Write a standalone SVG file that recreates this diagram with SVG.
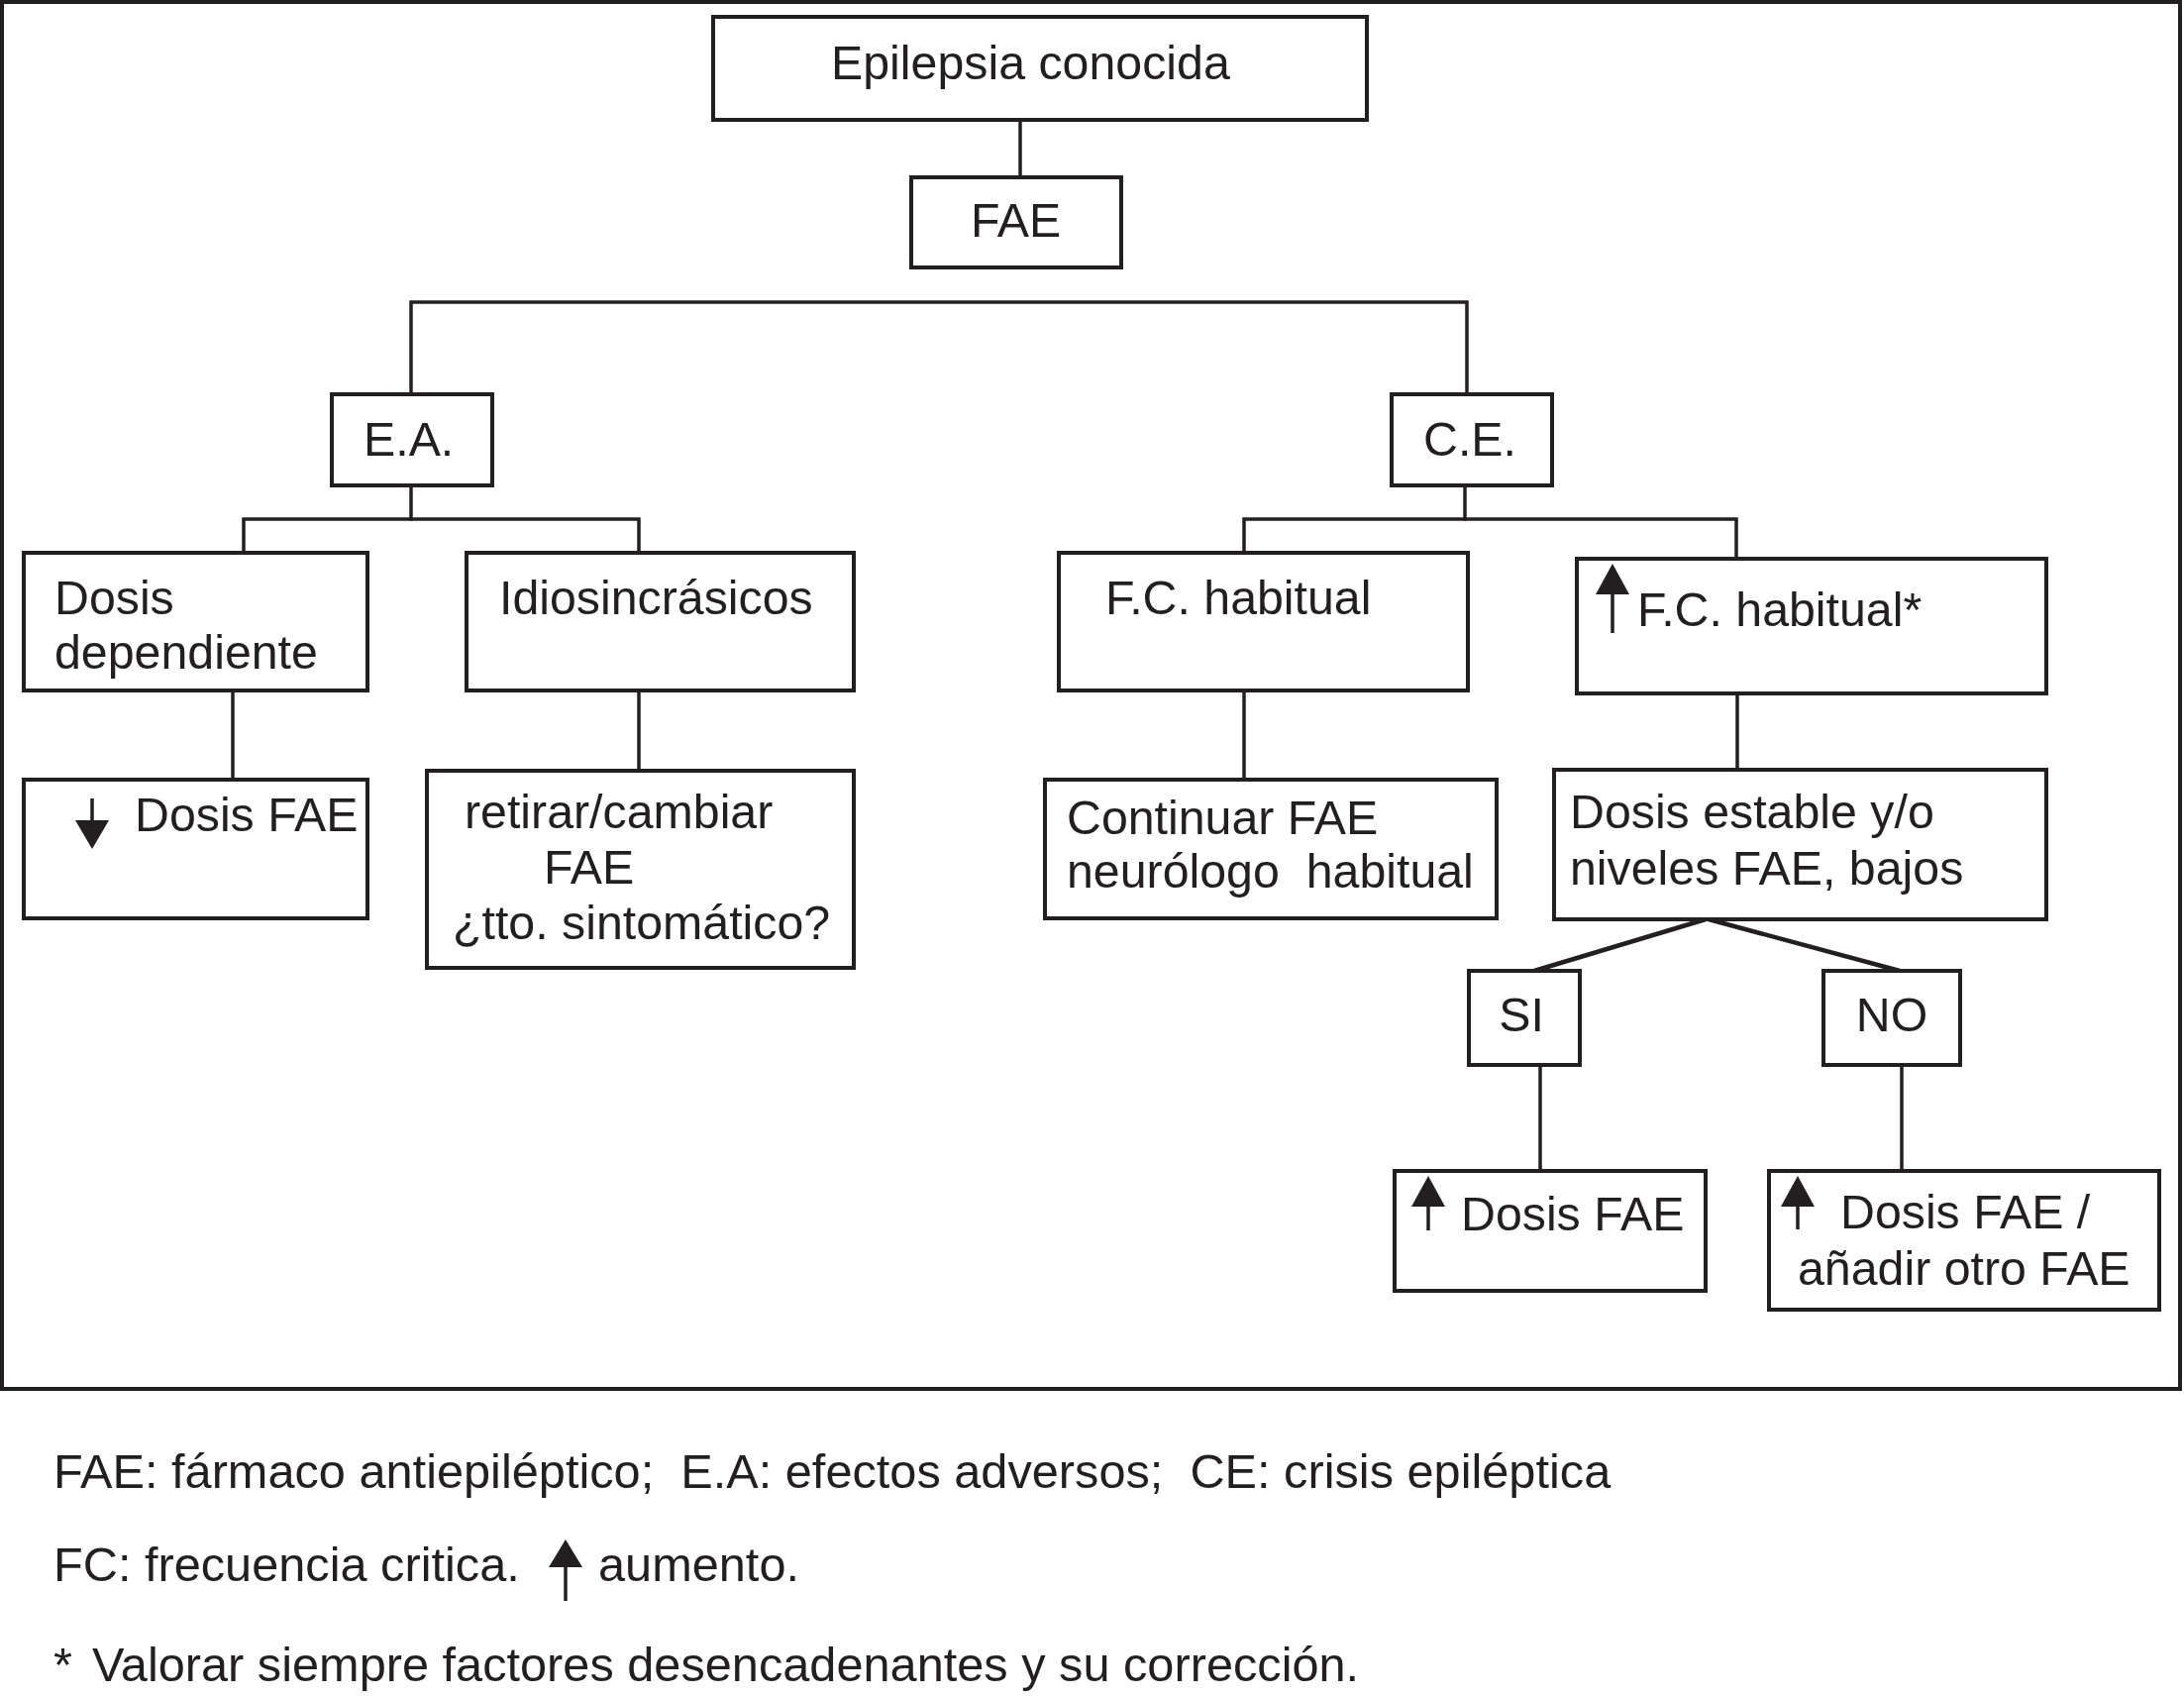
<svg xmlns="http://www.w3.org/2000/svg" width="2205" height="1712" viewBox="0 0 2205 1712">
<style>
  .box { fill: #ffffff; stroke: #231f20; stroke-width: 4; }
  .ln { fill: none; stroke: #231f20; stroke-width: 3.5; stroke-linecap: square; }
  .diag { fill: none; stroke: #231f20; stroke-width: 4.5; }
  .t { font-family: "Liberation Sans", Arial, Helvetica, sans-serif; font-size: 48.3px; fill: #231f20; }
  .f { font-size: 48.7px; }
  .c { text-anchor: middle; }
  .arr { fill: #231f20; stroke: none; }
  .shaft { stroke: #231f20; stroke-width: 3.5; fill: none; }
</style>
<rect x="0" y="0" width="2205" height="1712" fill="#ffffff"/>
<rect x="2" y="2" width="2199" height="1400" fill="none" stroke="#231f20" stroke-width="4"/>

<g id="connectors">
  <line class="ln" x1="1030" y1="121" x2="1030" y2="179"/>
  <polyline class="ln" points="415,398 415,305 1481,305 1481,398"/>
  <line class="ln" x1="415" y1="490" x2="415" y2="524"/>
  <polyline class="ln" points="246,558 246,524 645,524 645,558"/>
  <line class="ln" x1="235" y1="697" x2="235" y2="787"/>
  <line class="ln" x1="645" y1="697" x2="645" y2="778"/>
  <line class="ln" x1="1479" y1="490" x2="1479" y2="524"/>
  <polyline class="ln" points="1256,558 1256,524 1753,524 1753,564"/>
  <line class="ln" x1="1256" y1="697" x2="1256" y2="787"/>
  <line class="ln" x1="1754" y1="700" x2="1754" y2="777"/>
  <line class="diag" x1="1722" y1="928" x2="1549" y2="980"/>
  <line class="diag" x1="1725" y1="928" x2="1918" y2="980"/>
  <line class="ln" x1="1555" y1="1075" x2="1555" y2="1182"/>
  <line class="ln" x1="1920" y1="1075" x2="1920" y2="1182"/>
</g>

<g id="n-epilepsia">
  <rect class="box" x="720" y="17" width="660" height="104"/>
  <text class="t" x="839" y="80">Epilepsia conocida</text>
</g>
<g id="n-fae">
  <rect class="box" x="920" y="179" width="212" height="91"/>
  <text class="t" x="980" y="239">FAE</text>
</g>
<g id="n-ea">
  <rect class="box" x="335" y="398" width="162" height="92"/>
  <text class="t" x="367" y="460">E.A.</text>
</g>
<g id="n-ce">
  <rect class="box" x="1405" y="398" width="162" height="92"/>
  <text class="t" x="1437" y="460">C.E.</text>
</g>
<g id="n-dosisdep">
  <rect class="box" x="24" y="558" width="347" height="139"/>
  <text class="t" x="55" y="620">Dosis</text>
  <text class="t" x="55" y="675">dependiente</text>
</g>
<g id="n-idio">
  <rect class="box" x="471" y="558" width="391" height="139"/>
  <text class="t" x="504" y="620">Idiosincrásicos</text>
</g>
<g id="n-bajar">
  <rect class="box" x="24" y="787" width="347" height="140"/>
  <line class="shaft" x1="93" y1="806" x2="93" y2="830"/>
  <polygon class="arr" points="76,828 110,828 93,857"/>
  <text class="t" x="136" y="839">Dosis FAE</text>
</g>
<g id="n-retirar">
  <rect class="box" x="431" y="778" width="431" height="199"/>
  <text class="t" x="469" y="836">retirar/cambiar</text>
  <text class="t" x="549" y="892">FAE</text>
  <text class="t" x="457" y="948">¿tto. sintomático?</text>
</g>
<g id="n-fchab">
  <rect class="box" x="1069" y="558" width="413" height="139"/>
  <text class="t" x="1116" y="620">F.C. habitual</text>
</g>
<g id="n-fcup">
  <rect class="box" x="1592" y="564" width="474" height="136"/>
  <line class="shaft" x1="1628" y1="639" x2="1628" y2="598"/>
  <polygon class="arr" points="1611,600 1645,600 1628,569"/>
  <text class="t" x="1653" y="632">F.C. habitual*</text>
</g>
<g id="n-continuar">
  <rect class="box" x="1055" y="787" width="456" height="140"/>
  <text class="t" x="1077" y="842">Continuar FAE</text>
  <text class="t" x="1077" y="896" xml:space="preserve" style="white-space:pre">neurólogo  habitual</text>
</g>
<g id="n-estable">
  <rect class="box" x="1569" y="777" width="497" height="151"/>
  <text class="t" x="1585" y="836">Dosis estable y/o</text>
  <text class="t" x="1585" y="893">niveles FAE, bajos</text>
</g>
<g id="n-si">
  <rect class="box" x="1483" y="980" width="112" height="95"/>
  <text class="t c" x="1536" y="1041">SI</text>
</g>
<g id="n-no">
  <rect class="box" x="1841" y="980" width="138" height="95"/>
  <text class="t c" x="1910" y="1041">NO</text>
</g>
<g id="n-subir">
  <rect class="box" x="1408" y="1182" width="314" height="121"/>
  <line class="shaft" x1="1442" y1="1242" x2="1442" y2="1216"/>
  <polygon class="arr" points="1425,1218 1459,1218 1442,1187"/>
  <text class="t" x="1475" y="1242">Dosis FAE</text>
</g>
<g id="n-subir-anadir">
  <rect class="box" x="1786" y="1182" width="394" height="140"/>
  <line class="shaft" x1="1815" y1="1241" x2="1815" y2="1216"/>
  <polygon class="arr" points="1798,1218 1832,1218 1815,1187"/>
  <text class="t" x="1858" y="1240">Dosis FAE /</text>
  <text class="t" x="1815" y="1297">añadir otro FAE</text>
</g>

<g id="legend">
  <text class="t f" x="54" y="1502" xml:space="preserve" style="white-space:pre">FAE: fármaco antiepiléptico;  E.A: efectos adversos;  CE: crisis epiléptica</text>
  <text class="t f" x="54" y="1596">FC: frecuencia critica.</text>
  <line class="shaft" x1="571" y1="1616" x2="571" y2="1580"/>
  <polygon class="arr" points="554,1582 588,1582 571,1554"/>
  <text class="t f" x="604" y="1596">aumento.</text>
  <text class="t f" x="54" y="1697">*<tspan x="93">Valorar siempre factores desencadenantes y su corrección.</tspan></text>
</g>
</svg>
